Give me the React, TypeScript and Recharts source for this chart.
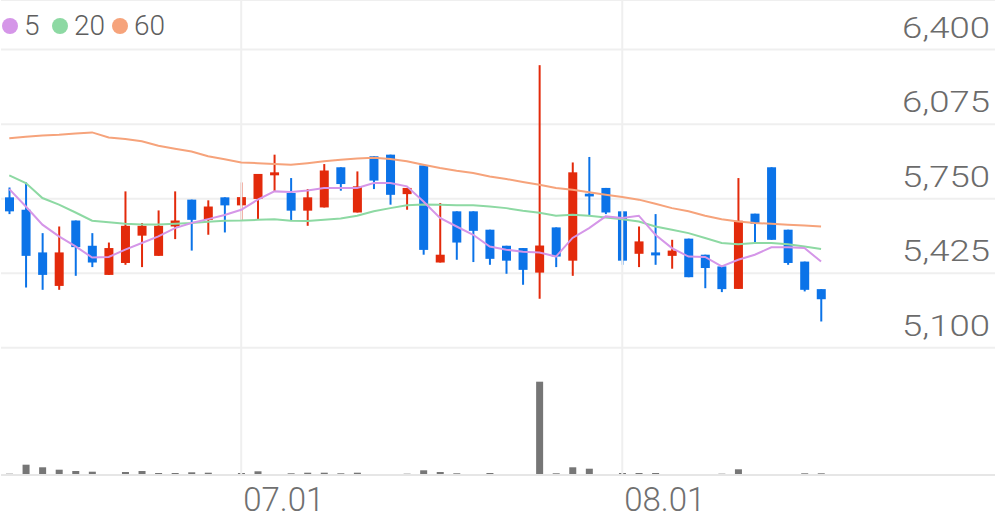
import React from "react";
import {
  ComposedChart,
  Bar,
  Line,
  XAxis,
  YAxis,
  CartesianGrid,
  ReferenceLine,
} from "recharts";

const dates = [
  "06.11", "06.12", "06.13", "06.14", "06.17", "06.18", "06.19", "06.20", "06.21", "06.24",
  "06.25", "06.26", "06.27", "06.28", "07.01", "07.02", "07.03", "07.04", "07.05", "07.08",
  "07.09", "07.10", "07.11", "07.12", "07.15", "07.16", "07.17", "07.18", "07.19", "07.22",
  "07.23", "07.24", "07.25", "07.26", "07.29", "07.30", "07.31", "08.01", "08.02", "08.05",
  "08.06", "08.07", "08.08", "08.09", "08.12", "08.13", "08.14", "08.16", "08.19", "08.20",
];

const opens = [
  5756, 5702, 5516, 5370, 5655, 5545, 5418, 5470, 5589, 5501,
  5629, 5746, 5658, 5756, 5721, 5749, 5852, 5775, 5698, 5712,
  5887, 5690, 5935, 5942, 5770, 5895, 5472, 5695, 5695, 5615,
  5545, 5535, 5428, 5625, 5480, 5772, 5797, 5695, 5510, 5516,
  5501, 5576, 5506, 5455, 5357, 5685, 5887, 5615, 5476, 5356,
];
const highs = [
  5799, 5821, 5600, 5629, 5655, 5600, 5559, 5782, 5644, 5699,
  5782, 5746, 5743, 5756, 5821, 5858, 5942, 5840, 5792, 5901,
  5887, 5869, 5935, 5942, 5797, 5895, 5731, 5695, 5695, 5615,
  5545, 5535, 6332, 5625, 5908, 5932, 5797, 5695, 5629, 5683,
  5571, 5576, 5506, 5455, 5840, 5685, 5887, 5615, 5476, 5356,
];
const lows = [
  5683, 5363, 5353, 5353, 5414, 5452, 5418, 5462, 5452, 5501,
  5574, 5524, 5593, 5603, 5654, 5661, 5782, 5654, 5632, 5712,
  5785, 5690, 5792, 5724, 5702, 5506, 5472, 5484, 5474, 5462,
  5423, 5375, 5314, 5452, 5414, 5676, 5683, 5462, 5452, 5462,
  5445, 5408, 5360, 5343, 5357, 5561, 5571, 5462, 5346, 5215,
];
const closes = [
  5695, 5501, 5418, 5516, 5539, 5472, 5535, 5632, 5632, 5632,
  5655, 5658, 5716, 5721, 5757, 5858, 5865, 5698, 5756, 5873,
  5814, 5804, 5829, 5767, 5797, 5527, 5506, 5559, 5610, 5488,
  5480, 5440, 5546, 5498, 5865, 5760, 5690, 5480, 5564, 5503,
  5524, 5408, 5448, 5356, 5654, 5641, 5571, 5470, 5353, 5312,
];
const volumes = [
  13000, 103000, 77000, 53000, 40000, 33000, 10000, 30000, 40000, 20000,
  20000, 27000, 23000, 10000, 20000, 37000, 10000, 17000, 23000, 23000,
  17000, 23000, 10000, 10000, 13000, 47000, 30000, 17000, 10000, 20000,
  10000, 10000, 933000, 17000, 77000, 63000, 10000, 20000, 20000, 20000,
  10000, 10000, 10000, 13000, 57000, 10000, 10000, 10000, 17000, 17000,
];
const ma5 = [
  5792, 5716, 5637, 5586, 5542, 5494, 5496, 5528, 5557, 5586,
  5622, 5644, 5661, 5679, 5702, 5746, 5782, 5779, 5786, 5797,
  5797, 5797, 5818, 5818, 5804, 5738, 5666, 5629, 5593, 5542,
  5528, 5519, 5516, 5498, 5579, 5622, 5673, 5666, 5676, 5593,
  5535, 5498, 5496, 5455, 5484, 5506, 5538, 5538, 5535, 5476,
];
const ma20 = [
  5852, 5818, 5753, 5724, 5690, 5654, 5647, 5641, 5638, 5638,
  5641, 5644, 5650, 5654, 5655, 5658, 5661, 5654, 5653, 5658,
  5664, 5676, 5695, 5709, 5722, 5725, 5724, 5722, 5721, 5716,
  5709, 5698, 5689, 5676, 5680, 5676, 5668, 5661, 5651, 5629,
  5615, 5600, 5579, 5557, 5552, 5557, 5557, 5552, 5542, 5531,
];
const ma60 = [
  6013, 6020, 6026, 6029, 6034, 6039, 6017, 6010, 6000, 5981,
  5968, 5956, 5935, 5922, 5908, 5905, 5901, 5898, 5905, 5913,
  5920, 5925, 5928, 5923, 5913, 5898, 5884, 5872, 5862, 5847,
  5836, 5823, 5811, 5797, 5789, 5778, 5767, 5757, 5746, 5728,
  5709, 5695, 5676, 5661, 5651, 5644, 5641, 5637, 5633, 5629,
];

const priceTicks = [5100, 5425, 5750, 6075, 6400];
const labelDates = ["07.01", "08.01"];

const data = dates.map((date, i) => ({
  date,
  open: opens[i],
  high: highs[i],
  low: lows[i],
  close: closes[i],
  volume: volumes[i],
  ma5: ma5[i],
  ma20: ma20[i],
  ma60: ma60[i],
}));

const W = 996;
const H = 519;
const UP = "#e32a0b";
const DOWN = "#0b73e8";
const GRID = "#efefef";
const FONT = "Roboto, 'Noto Sans', sans-serif";

function Candle(props: any) {
  const { x, y, width, height, payload } = props;
  if (!payload) return null;
  const top = Math.min(y, y + height);
  const bottom = Math.max(y, y + height);
  const { open, high, low, close } = payload;
  const span = high - low || 1;
  const py = (v: number) => top + ((high - v) / span) * (bottom - top);
  const color = close >= open ? UP : DOWN;
  const cx = x + width / 2;
  const bTop = py(Math.max(open, close));
  const bBot = py(Math.min(open, close));
  return (
    <g>
      <line x1={cx} x2={cx} y1={top} y2={bottom} stroke={color} strokeWidth={2} />
      <rect x={x} y={bTop} width={width} height={Math.max(bBot - bTop, 2)} fill={color} />
    </g>
  );
}

// volume bar, a bit narrower than the candle slot
function VolBar(props: any) {
  const { x, y, width, height } = props;
  if (!height) return null;
  const w = 7;
  return <rect x={x + (width - w) / 2} y={y} width={w} height={height} fill="#767676" />;
}

function PriceTick(props: any) {
  const { y, payload } = props;
  return (
    <text
      x={W - 6}
      y={y - 12}
      textAnchor="end"
      fill="#6b6b6b"
      fontSize={30}
      fontWeight={300}
      fontFamily={FONT}
      textLength={88}
      lengthAdjust="spacingAndGlyphs"
    >
      {Number(payload.value).toLocaleString("en-US")}
    </text>
  );
}

function DateTick(props: any) {
  const { x, payload } = props;
  if (!labelDates.includes(payload.value)) return null;
  return (
    <text
      x={x + 2}
      y={511}
      textAnchor="start"
      fill="#707070"
      fontSize={33}
      fontWeight={300}
      fontFamily={FONT}
    >
      {payload.value}
    </text>
  );
}

const legendItems = [
  { label: "5", color: "#d596e8", cx: 10 },
  { label: "20", color: "#8dd9a3", cx: 60 },
  { label: "60", color: "#f6a37b", cx: 120 },
];

export default function App() {
  const band = (W - 2) / 60;
  return (
    <div style={{ position: "absolute", left: 0, top: 0, width: W, height: H, background: "#fff" }}>
      <ComposedChart
        width={W}
        height={H}
        data={data}
        barGap={-9}
        margin={{ top: 0, right: 1, bottom: 14, left: 1 }}
      >
        <CartesianGrid yAxisId="price" vertical={false} stroke={GRID} strokeWidth={2} />
        <XAxis
          dataKey="date"
          height={30}
          interval={0}
          padding={{ left: 0, right: band * 10 }}
          axisLine={{ stroke: "#e6e6e6", strokeWidth: 2 }}
          tickLine={false}
          tick={<DateTick />}
        />
        <YAxis
          yAxisId="price"
          orientation="right"
          mirror
          width={1}
          interval={0}
          domain={[4546, 6616]}
          ticks={priceTicks}
          allowDataOverflow
          axisLine={false}
          tickLine={false}
          tick={<PriceTick />}
        />
        <YAxis yAxisId="vol" hide domain={[0, 4750000]} />
        {labelDates.map((d) => (
          <ReferenceLine key={d} x={d} yAxisId="price" stroke={GRID} strokeWidth={2} />
        ))}
        <Bar
          yAxisId="vol"
          dataKey="volume"
          barSize={9}
          shape={<VolBar />}
          isAnimationActive={false}
        />
        <Bar
          yAxisId="price"
          dataKey={(d: any) => [d.low, d.high]}
          barSize={9}
          shape={<Candle />}
          isAnimationActive={false}
        />
        <Line yAxisId="price" dataKey="ma60" stroke="#f6a37b" strokeWidth={2} dot={false} isAnimationActive={false} />
        <Line yAxisId="price" dataKey="ma20" stroke="#8dd9a3" strokeWidth={2} dot={false} isAnimationActive={false} />
        <Line yAxisId="price" dataKey="ma5" stroke="#d596e8" strokeWidth={2} dot={false} isAnimationActive={false} />
      </ComposedChart>
      <svg
        width={180}
        height={46}
        style={{ position: "absolute", left: 0, top: 0 }}
      >
        {legendItems.map((it) => (
          <g key={it.label}>
            <circle cx={it.cx} cy={26} r={8} fill={it.color} />
            <text
              x={it.cx + 14}
              y={35}
              fill="#5e5e5e"
              fontSize={28}
              fontWeight={300}
              fontFamily={FONT}
            >
              {it.label}
            </text>
          </g>
        ))}
      </svg>
    </div>
  );
}
